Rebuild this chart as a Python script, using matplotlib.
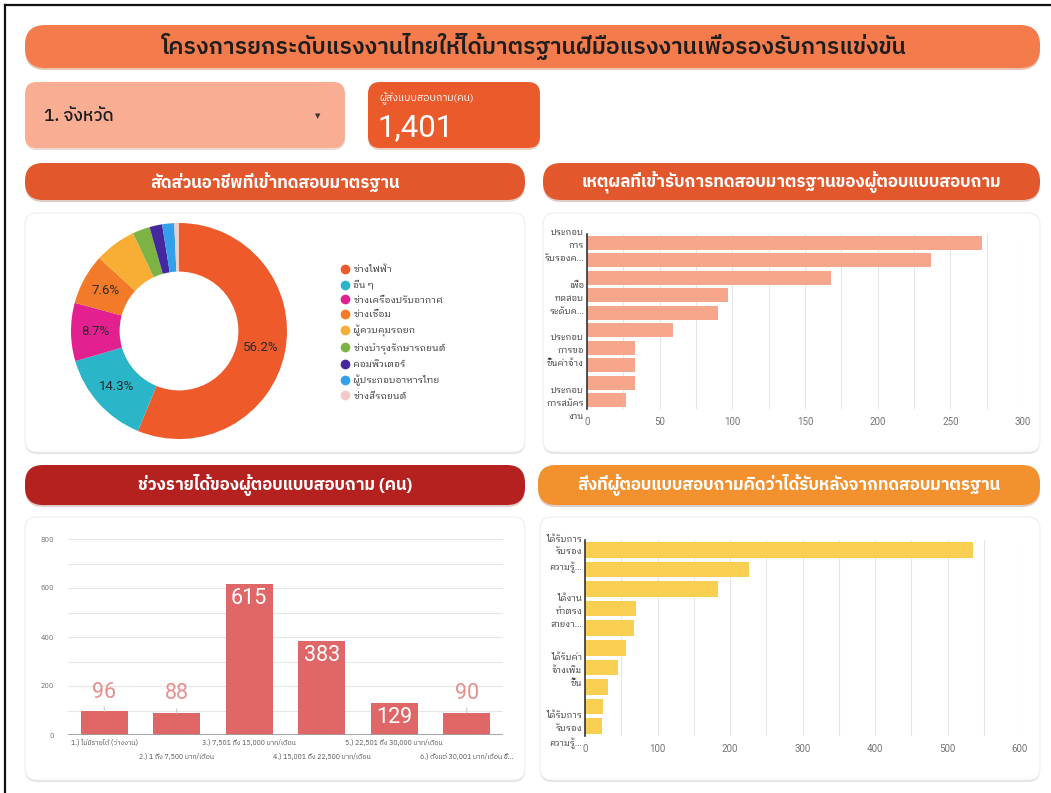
import matplotlib
matplotlib.use("Agg")
import matplotlib.pyplot as plt
from matplotlib import font_manager
from matplotlib.patches import FancyBboxPatch
from matplotlib.lines import Line2D

# ---------------------------------------------------------------- data
title = "โครงการยกระดับแรงงานไทยให้ได้มาตรฐานฝีมือแรงงานเพื่อรองรับการแข่งขัน"
province_filter = "1. จังหวัด"
respondents_label = "ผู้ส่งแบบสอบถาม(คน)"

occupations = ["ช่างไฟฟ้า", "อื่น ๆ", "ช่างเครื่องปรับอากาศ", "ช่างเชื่อม",
               "ผู้ควบคุมรถยก", "ช่างบำรุงรักษารถยนต์", "คอมพิวเตอร์",
               "ผู้ประกอบอาหารไทย", "ช่างสีรถยนต์"]
occupation_share = [56.2, 14.3, 8.7, 7.6, 6.2, 2.6, 1.9, 1.8, 0.7]
occupation_colors = ["#ef5a2a", "#2bb5c8", "#e3208f", "#f27a28", "#f8ad35",
                     "#7cb342", "#45289f", "#33a0ec", "#f1cbc6"]

reason_labels = ["ประกอบ\nการ\nรับรองค...", "", "", "เพื่อ\nทดสอบ\nระดับค...", "", "",
                 "ประกอบ\nการขอ\nขึ้นค่าจ้าง", "", "", "ประกอบ\nการสมัคร\nงาน"]
reason_counts = [272, 237, 168, 97, 90, 59, 33, 33, 33, 27]

income_labels = ["1.) ไม่มีรายได้ (ว่างงาน)", "2.) 1 ถึง 7,500 บาท/เดือน",
                 "3.) 7,501 ถึง 15,000 บาท/เดือน", "4.) 15,001 ถึง 22,500 บาท/เดือน",
                 "5.) 22,501 ถึง 30,000 บาท/เดือน", "6.) ตั้งแต่ 30,001 บาท/เดือน ขึ้..."]
income_counts = [96, 88, 615, 383, 129, 90]

benefit_labels = ["ได้รับการ\nรับรอง\nความรู้...", "", "", "ได้งาน\nทำตรง\nสายงา...", "", "",
                  "ได้รับค่า\nจ้างเพิ่ม\nขึ้น", "", "", "ได้รับการ\nรับรอง\nความรู้..."]
benefit_counts = [535, 226, 183, 71, 67, 56, 46, 32, 25, 24]

# ---------------------------------------------------------------- fonts
have = {f.name for f in font_manager.fontManager.ttflist}


def fonts(*names):
    return [n for n in names if n in have] + ["DejaVu Sans"]


THAI = fonts("IBM Plex Sans Thai", "Sarabun", "Noto Sans Thai", "Athiti")
THAI_LOOP = fonts("IBM Plex Sans Thai Looped", "Noto Sans Thai Looped", "IBM Plex Sans Thai")
NUM = fonts("Roboto", "IBM Plex Sans Thai")

# ---------------------------------------------------------------- page
W, H = 1051, 793
fig = plt.figure(figsize=(W / 100, H / 100), dpi=100)
fig.patch.set_facecolor("white")

bg = fig.add_axes([0, 0, 1, 1])
bg.set_xlim(0, W)
bg.set_ylim(H, 0)
bg.axis("off")


def px(x0, y0, x1, y1):
    # pixel box (top-left origin) -> figure fraction rect
    return [x0 / W, 1 - y1 / H, (x1 - x0) / W, (y1 - y0) / H]


def box(x0, y0, x1, y1, color, r, shadow="#d9d9d9", edge="none"):
    if shadow:
        bg.add_patch(FancyBboxPatch((x0, y0 + 2), x1 - x0, y1 - y0,
                                    boxstyle=f"round,pad=0,rounding_size={r}",
                                    fc=shadow, ec="none", alpha=0.8))
    bg.add_patch(FancyBboxPatch((x0, y0), x1 - x0, y1 - y0,
                                boxstyle=f"round,pad=0,rounding_size={r}",
                                fc=color, ec=edge, lw=0.8))


# outer frame (left and top edges only)
bg.plot([5, 5], [5, H], color="#111111", lw=1.6)
bg.plot([5, W], [5, 5], color="#111111", lw=1.6)

# title bar
box(25, 25, 1040, 68, "#f47b4c", 20, shadow="#e0b5a0")
bg.text(534, 46, title, ha="center", va="center", fontsize=16.5, weight="semibold",
        family=THAI, color="#1e1e1e")

# filter control and score card
box(25, 82, 345, 148, "#f9ad93", 12, shadow="#e8d2c8")
bg.text(44, 116, province_filter, ha="left", va="center", fontsize=12.5,
        weight="medium", family=THAI, color="#1e1e1e")
bg.text(318, 116, "▼", ha="center", va="center", fontsize=5,
        family="DejaVu Sans", color="#333333")

box(368, 82, 540, 148, "#ea5a2b", 12, shadow="#e8c5b5")
bg.text(379, 99, respondents_label, ha="left", va="center", fontsize=7.5,
        family=THAI, color="white")
bg.text(377, 128, f"{sum(income_counts):,}", ha="left", va="center",
        fontsize=22.5, family=NUM, color="white")

# section headers
headers = [
    ((25, 163, 525, 200), "#e2572c", "สัดส่วนอาชีพที่เข้าทดสอบมาตรฐาน"),
    ((543, 163, 1040, 200), "#e2572c", "เหตุผลที่เข้ารับการทดสอบมาตรฐานของผู้ตอบแบบสอบถาม"),
    ((25, 465, 525, 505), "#b4211f", "ช่วงรายได้ของผู้ตอบแบบสอบถาม (คน)"),
    ((538, 465, 1040, 505), "#f3912f", "สิ่งที่ผู้ตอบแบบสอบถามคิดว่าได้รับหลังจากทดสอบมาตรฐาน"),
]
for (x0, y0, x1, y1), c, t in headers:
    box(x0, y0, x1, y1, c, 18, shadow="#d8c0b8")
    bg.text((x0 + x1) / 2, (y0 + y1) / 2, t, ha="center", va="center",
            fontsize=12.2, weight="bold", family=THAI, color="white")

# white cards
for x0, y0, x1, y1 in [(25, 213, 525, 452), (543, 213, 1040, 452),
                       (25, 517, 525, 780), (540, 517, 1040, 780)]:
    box(x0, y0, x1, y1, "white", 12, shadow="#dcdcdc", edge="#eeeeee")

# ---------------------------------------------------------------- donut
ax = fig.add_axes(px(71, 223, 287, 439))
wedges, _, autotexts = ax.pie(
    occupation_share, colors=occupation_colors, startangle=90, counterclock=False,
    radius=1, wedgeprops=dict(width=0.45, edgecolor="none"),
    autopct=lambda p: f"{p:.1f}%" if p >= 7 else "", pctdistance=0.775)
for t in autotexts:
    t.set_fontsize(9.5)
    t.set_family(NUM)
    t.set_color("#2a2a2a")
ax.set_xlim(-1, 1)
ax.set_ylim(-1, 1)
ax.set_aspect("equal")

handles = [Line2D([], [], ls="none", marker="o", ms=7, mfc=c, mec="none")
           for c in occupation_colors]
ax.legend(handles, occupations, loc="upper left",
          bbox_to_anchor=(333 / W, 1 - 257 / H), bbox_transform=fig.transFigure,
          frameon=False, handlelength=0.8, handletextpad=0.45, labelspacing=0.6,
          prop=dict(family=THAI_LOOP, size=6.8), labelcolor="#333333")

# ---------------------------------------------------------------- horizontal bars


def hbars(rect, values, labels, color, xmax, grid_step, label_step):
    a = fig.add_axes(px(*rect))
    a.set_facecolor("none")
    pos = range(len(values))
    a.barh(pos, values, height=0.8, color=color, zorder=2)
    a.set_ylim(len(values) - 0.5, -0.5)
    a.set_xlim(0, xmax)
    a.set_yticks(list(pos), labels, fontsize=6.3, family=THAI_LOOP, color="#333333",
                 linespacing=1.55)
    a.set_xticks(range(0, xmax + 1, label_step))
    a.set_xticks(range(0, xmax + 1, grid_step), minor=True)
    a.tick_params(axis="x", which="both", length=0, labelsize=7, colors="#757575", pad=6)
    a.tick_params(axis="y", length=0, pad=2)
    for lab in a.get_xticklabels():
        lab.set_family(NUM)
    a.grid(axis="x", which="both", color="#e6e6e6", lw=0.8, zorder=0)
    for s in ["top", "right", "bottom"]:
        a.spines[s].set_visible(False)
    a.spines["left"].set_color("#333333")
    a.spines["left"].set_linewidth(1.2)
    a.spines["left"].set_zorder(3)
    return a


hbars((587, 234, 1023, 409), reason_counts, reason_labels, "#f6a68b", 300, 25, 50)
hbars((585, 540, 1020, 736), benefit_counts, benefit_labels, "#f9cf52", 600, 50, 100)

# ---------------------------------------------------------------- income columns
ax = fig.add_axes(px(68, 539, 503, 735))
ax.set_facecolor("none")
x = range(len(income_counts))
ax.bar(x, income_counts, width=0.65, color="#e06767", zorder=2)
ax.set_xlim(-0.5, len(income_counts) - 0.5)
ax.set_ylim(0, 800)
ax.set_yticks(range(0, 801, 200))
ax.set_yticks(range(0, 801, 100), minor=True)
ax.grid(axis="y", which="both", color="#e6e6e6", lw=0.8, zorder=0)
ax.axhline(0, color="#9e9e9e", lw=1.3, zorder=3)
ax.tick_params(axis="y", which="both", length=0, labelsize=5, colors="#757575", pad=10)
ax.set_xticks(list(x), income_labels, fontsize=5, family=THAI, color="#555555")
ax.tick_params(axis="x", length=0, pad=3)
# stagger the long income labels over two rows
for i, tick in enumerate(ax.xaxis.get_major_ticks()):
    if i % 2:
        tick.set_pad(13)
for s in ax.spines.values():
    s.set_visible(False)

for i, v in enumerate(income_counts):
    if v > 100:
        ax.annotate(str(v), (i, v), xytext=(0, -10), textcoords="offset points",
                    ha="center", va="center", fontsize=15.5, family=NUM, color="white",
                    zorder=4)
    else:
        ax.annotate(str(v), (i, v), xytext=(0, 14), textcoords="offset points",
                    ha="center", va="center", fontsize=15.5, family=NUM, color="#e58f8f",
                    arrowprops=dict(arrowstyle="-", color="#c9c9c9", lw=0.8,
                                    shrinkA=1, shrinkB=0), zorder=4)

fig.savefig("out.png", dpi=100)
